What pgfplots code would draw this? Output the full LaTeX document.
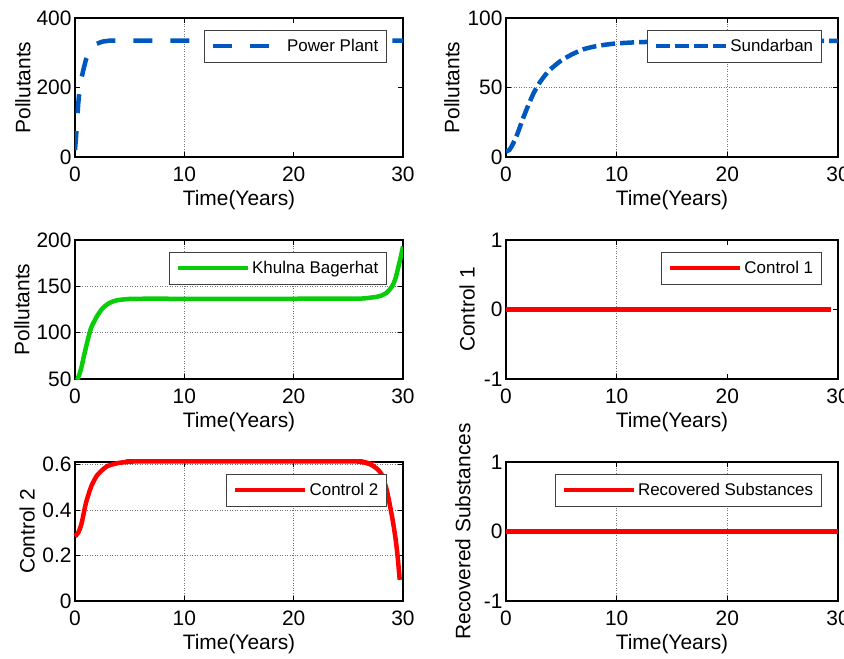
\documentclass[border=0pt]{standalone}
\usepackage{fontspec}
\setmainfont{Liberation Sans}
\usepackage{pgfplots}
\pgfplotsset{compat=1.18}
\usepgfplotslibrary{groupplots}

\definecolor{plantblue}{RGB}{0,88,190}
\definecolor{khulnagreen}{RGB}{10,205,10}
\definecolor{ctrlred}{RGB}{255,0,0}

\pgfplotsset{
  every axis/.append style={
    scale only axis,
    height=139bp,
    xmin=0, xmax=30,
    xtick={0,10,20,30},
    axis line style={black, line width=1.1bp},
    tick align=inside,
    major tick length=5bp,
    tick style={black, line width=0.6bp},
    /pgf/number format/assume math mode=true,
    tick label style={font=\fontsize{21}{24}\selectfont},
    xticklabel style={yshift=-6bp},
    label style={font=\fontsize{21}{24}\selectfont},
    xlabel={Time(Years)},
    x label style={at={(axis description cs:0.5,-0.309)}, anchor=center},
    grid style={black!55, line width=0.6bp, dash pattern=on 1bp off 1.5bp},
    legend cell align=left,
    legend style={
      at={(0.952,0.914)}, anchor=north east,
      font=\fontsize{17}{20}\selectfont,
      draw=black!75, line width=0.8bp,
      inner xsep=6.5bp, inner ysep=7bp,
    },
    legend image code/.code={\draw[#1] (0bp,0bp) -- (70bp,0bp);},
  },
}

\begin{document}
\begin{tikzpicture}
\begin{groupplot}[
  group style={group size=2 by 3, horizontal sep=103bp, vertical sep=83bp},
]
% Power plant
\nextgroupplot[
  width=328bp,
  ymin=0, ymax=400, ytick={0,200,400},
  ylabel={Pollutants},
  y label style={at={(axis description cs:-0.159,0.5)}, anchor=center},
  extra x ticks={10}, extra x tick labels={},
  extra x tick style={grid=major},
]
\addplot[plantblue, line width=4.5bp, dash pattern=on 19bp off 18bp] coordinates {
  (0,20) (0.1,60) (0.2,110) (0.3,155) (0.45,203) (0.6,228) (0.76,250)
  (1.0,280) (1.3,302) (1.6,316) (2,326) (2.5,332) (3.2,335) (5,335)
  (10,335) (20,335) (30,335)
};
\addlegendentry{Power Plant}

% Sundarban
\nextgroupplot[
  width=332bp,
  ymin=0, ymax=100, ytick={0,50,100},
  grid=major,
  ylabel={Pollutants},
  y label style={at={(axis description cs:-0.163,0.5)}, anchor=center},
]
\addplot[plantblue, line width=4.5bp, dash pattern=on 14bp off 5bp, smooth, tension=0.4] coordinates {
  (0,4) (0.3,5) (0.6,9) (1,16) (1.5,27) (2,37) (2.5,46) (3,53) (3.5,58.5)
  (4,63) (5,69.5) (6,74) (7,77.5) (8,79.5) (9,80.8) (10,81.7) (12,82.6)
  (15,83.1) (20,83.4) (30,83.5)
};
\addlegendentry{Sundarban}

% Khulna Bagerhat
\nextgroupplot[
  width=328bp,
  ymin=50, ymax=200, ytick={50,100,150,200},
  grid=major,
  ylabel={Pollutants},
  y label style={at={(axis description cs:-0.162,0.5)}, anchor=center},
]
\addplot[khulnagreen, line width=4.5bp, smooth, tension=0.4] coordinates {
  (0.2,49) (0.4,55) (0.6,63) (0.8,74) (1,84) (1.25,96) (1.5,106) (2,117.5)
  (2.5,126) (3,131) (3.5,133.8) (4,135.3) (5,136.4) (6,136.6) (10,136.6)
  (20,136.6) (26,136.8) (27,137.8) (27.5,138.5) (28,140) (28.5,143)
  (29,150) (29.3,158) (29.6,172) (29.8,182) (30,193)
};
\addlegendentry{Khulna Bagerhat}

% Control 1
\nextgroupplot[
  width=332bp,
  ymin=-1, ymax=1, ytick={-1,0,1},
  ylabel={Control 1},
  y label style={at={(axis description cs:-0.117,0.5)}, anchor=center},
  extra x ticks={10}, extra x tick labels={},
  extra x tick style={grid=major},
]
\addplot[ctrlred, line width=4.5bp] coordinates {(0,0) (29.4,0)};
\addlegendentry{Control 1}

% Control 2
\nextgroupplot[
  width=328bp,
  ymin=0, ymax=0.61, ytick={0,0.2,0.4,0.6},
  yticklabels={0,0.2,0.4,0.6},
  grid=major, clip=false,
  ylabel={Control 2},
  y label style={at={(axis description cs:-0.146,0.5)}, anchor=center},
]
\addplot[ctrlred, line width=4.5bp, smooth, tension=0.4] coordinates {
  (0,0.284) (0.3,0.30) (0.6,0.34) (1,0.43) (1.5,0.505) (2,0.55) (2.5,0.575)
  (3,0.593) (4,0.606) (5,0.611) (6,0.613) (25,0.613) (26,0.611) (26.5,0.607)
  (27,0.6) (27.5,0.585) (28,0.56) (28.5,0.49) (29,0.37) (29.3,0.28)
  (29.5,0.2) (29.7,0.093)
};
\addlegendentry{Control 2}

% Recovered substances
\nextgroupplot[
  width=332bp,
  ymin=-1, ymax=1, ytick={-1,0,1},
  xmajorgrids,
  ylabel={Recovered Substances},
  y label style={at={(axis description cs:-0.13,0.5)}, anchor=center},
]
\addplot[ctrlred, line width=4.5bp] coordinates {(0,0) (30,0)};
\addlegendentry{Recovered Substances}
\end{groupplot}
\pgfresetboundingbox
\path[use as bounding box]
  ([xshift=-75bp,yshift=18bp]group c1r1.north west)
  rectangle ([xshift=6bp,yshift=-58bp]group c2r3.south east);
\end{tikzpicture}
\end{document}
